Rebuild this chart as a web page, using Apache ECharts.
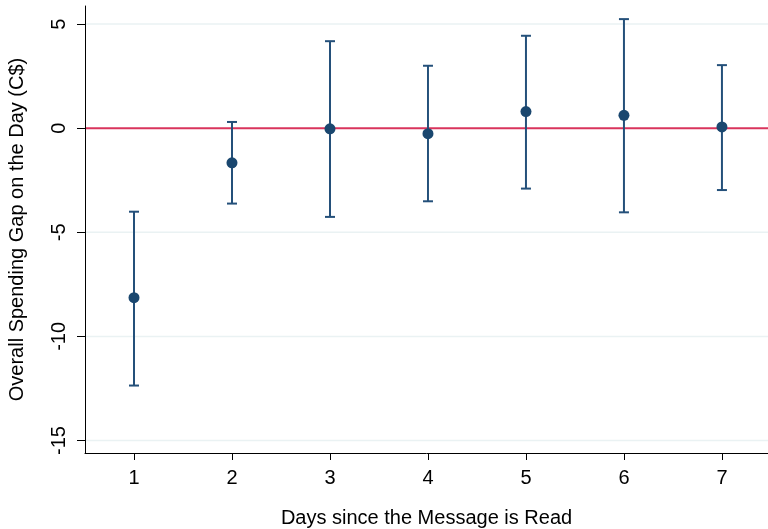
<!DOCTYPE html>
<html>
<head>
<meta charset="utf-8">
<script src="https://cdn.jsdelivr.net/npm/echarts@6/dist/echarts.min.js"></script>
<style>html,body{margin:0;padding:0;background:#fff}#c{width:768px;height:529px}</style>
</head>
<body>
<div id="c"></div>
<script>
const days = [1, 2, 3, 4, 5, 6, 7];
const estimates = [-8.14, -1.66, -0.03, -0.26, 0.80, 0.62, 0.06];
const lowerCI = [-12.36, -3.62, -4.26, -3.51, -2.90, -4.04, -2.97];
const upperCI = [-4.01, 0.30, 4.18, 3.00, 4.44, 5.24, 3.03];
const yTicks = [-15, -10, -5, 0, 5];
const xTicks = [1, 2, 3, 4, 5, 6, 7];
const gridValues = [-15, -10, -5, 5];
const refValues = [0];

const navy = '#1a476f';
const font = 'Liberation Sans, Arial, sans-serif';

const chart = echarts.init(document.getElementById('c'));
chart.setOption({
  animation: false,
  backgroundColor: '#fff',
  grid: { left: 85, right: 0, top: 6, bottom: 76, containLabel: false, outerBoundsMode: 'none' },
  xAxis: {
    type: 'value', min: 0.5, max: 7.47,
    name: 'Days since the Message is Read',
    nameLocation: 'middle', nameGap: 55,
    nameTextStyle: { fontSize: 20, color: '#000', fontFamily: font },
    axisLine: { show: true, onZero: false, lineStyle: { color: '#000', width: 1 } },
    axisTick: { show: true, length: 7, customValues: xTicks, lineStyle: { color: '#000' } },
    axisLabel: { customValues: xTicks, fontSize: 20, color: '#000', fontFamily: font, margin: 15 },
    splitLine: { show: false }
  },
  yAxis: {
    type: 'value', min: -15.6, max: 5.87,
    name: 'Overall Spending Gap on the Day (C$)',
    nameLocation: 'middle', nameGap: 58,
    nameTextStyle: { fontSize: 20, color: '#000', fontFamily: font },
    axisLine: { show: true, onZero: false, lineStyle: { color: '#000', width: 1 } },
    axisTick: { show: true, length: 8, customValues: yTicks, lineStyle: { color: '#000' } },
    axisLabel: { customValues: yTicks, fontSize: 20, color: '#000', fontFamily: font, rotate: 90, margin: 16 },
    splitLine: { show: false }
  },
  series: [
    {
      type: 'custom', z: 1, silent: true,
      data: gridValues.map(v => [v, 0]).concat(refValues.map(v => [v, 1])),
      renderItem: function (params, api) {
        const v = api.value(0);
        const ref = api.value(1) === 1;
        const a = api.coord([0.5, v]);
        const b = api.coord([7.47, v]);
        return {
          type: 'line', z2: ref ? 2 : 1,
          shape: { x1: a[0] + 1, y1: a[1], x2: b[0], y2: b[1] },
          style: { stroke: ref ? '#d9345c' : '#eaf2f3', lineWidth: ref ? 2 : 1.5 }
        };
      },
      encode: { y: 0 }
    },
    {
      type: 'custom', z: 3,
      data: days.map((d, i) => [d, lowerCI[i], upperCI[i]]),
      encode: { x: 0, y: [1, 2] },
      renderItem: function (params, api) {
        const x = api.value(0);
        const lo = api.coord([x, api.value(1)]);
        const hi = api.coord([x, api.value(2)]);
        const w = 5;
        const style = { stroke: '#24507a', lineWidth: 2 };
        return {
          type: 'group',
          children: [
            { type: 'line', shape: { x1: lo[0], y1: lo[1], x2: hi[0], y2: hi[1] }, style: style },
            { type: 'line', shape: { x1: lo[0] - w, y1: lo[1], x2: lo[0] + w, y2: lo[1] }, style: style },
            { type: 'line', shape: { x1: hi[0] - w, y1: hi[1], x2: hi[0] + w, y2: hi[1] }, style: style }
          ]
        };
      }
    },
    {
      type: 'scatter', z: 4,
      symbol: 'circle', symbolSize: 11,
      itemStyle: { color: navy, opacity: 1 },
      data: days.map((d, i) => [d, estimates[i]])
    }
  ]
});
</script>
</body>
</html>
